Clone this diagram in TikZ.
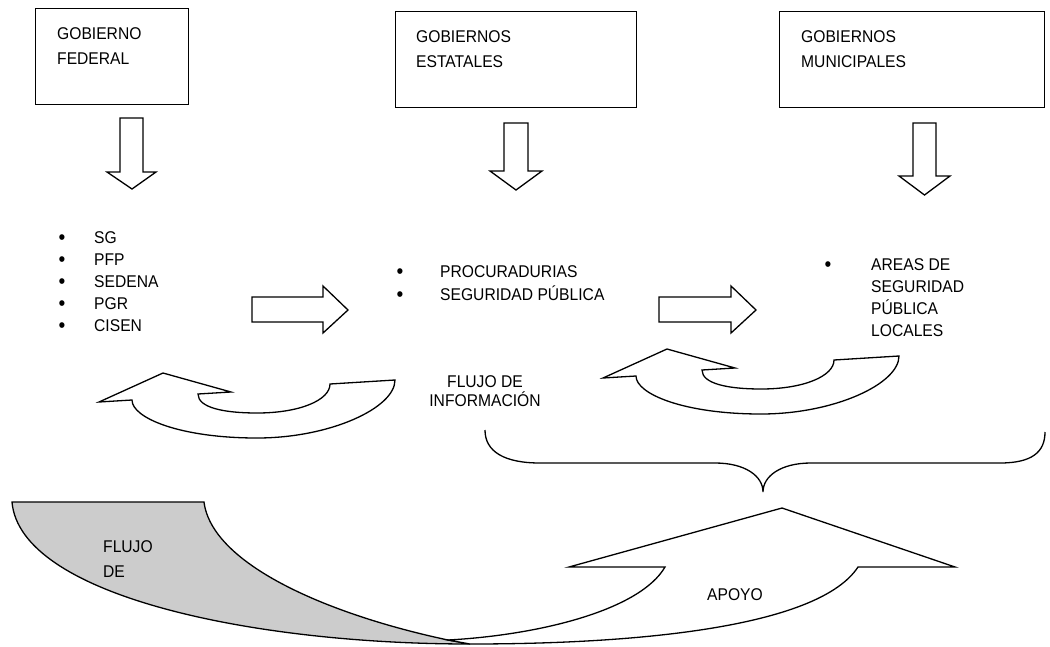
\documentclass[tikz,border=0pt]{standalone}
\usepackage{fontspec}
\setmainfont[FakeStretch=0.92]{Liberation Sans}
\begin{document}
\begin{tikzpicture}[x=1pt,y=-1pt,
  boxst/.style={draw=black, line width=1.3pt, anchor=north west, inner sep=0pt},
  blk/.style={draw=black, line width=1.3pt, fill=white, line join=miter},
  lbl/.style={font=\fontsize{17}{20}\selectfont, inner sep=0pt, anchor=base west},
  bul/.style={font=\fontsize{21}{22}\selectfont, inner sep=0pt, anchor=base},
  brace/.style={draw=black, line width=1.3pt}
]
\useasboundingbox (0,0) rectangle (1050,646);
\definecolor{shade}{RGB}{204,204,204}

% top boxes
\node[boxst, minimum width=153pt, minimum height=96pt] (fed) at (35,8) {};
\node[boxst, minimum width=241pt, minimum height=96pt] (est) at (395,11) {};
\node[boxst, minimum width=265pt, minimum height=96pt] (mun) at (779,11) {};
\node[lbl] (fedA) at (57,39) {GOBIERNO};
\node[lbl] (fedB) at (57,64) {FEDERAL};
\node[lbl] (estA) at (416,42) {GOBIERNOS};
\node[lbl] (estB) at (416,67) {ESTATALES};
\node[lbl] (munA) at (801,42) {GOBIERNOS};
\node[lbl] (munB) at (801,67) {MUNICIPALES};

% down block arrows
\draw[blk] (120,118) -- (143,118) -- (143,172) -- (156,172) -- (132,189) -- (107,172) -- (120,172) -- cycle;
\draw[blk] (504,123) -- (528,123) -- (528,171) -- (542,171) -- (516,190) -- (490,171) -- (504,171) -- cycle;
\draw[blk] (913,123) -- (936,123) -- (936,176) -- (950,176) -- (924.5,195) -- (899,176) -- (913,176) -- cycle;

% lists
\node[bul] (b1) at (62,244) {\textbullet};
\node[bul] (b2) at (62,266) {\textbullet};
\node[bul] (b3) at (62,288) {\textbullet};
\node[bul] (b4) at (62,310) {\textbullet};
\node[bul] (b5) at (62,332) {\textbullet};
\node[lbl] (l1) at (94,243) {SG};
\node[lbl] (l2) at (94,265) {PFP};
\node[lbl] (l3) at (94,287) {SEDENA};
\node[lbl] (l4) at (94,309) {PGR};
\node[lbl] (l5) at (94,331) {CISEN};

\node[bul] (c1) at (400,278) {\textbullet};
\node[bul] (c2) at (400,301) {\textbullet};
\node[lbl] (m1) at (440,277) {PROCURADURIAS};
\node[lbl] (m2) at (440,300) {SEGURIDAD PÚBLICA};

\node[bul] (d1) at (828,271) {\textbullet};
\node[lbl] (r1) at (871,270) {AREAS DE};
\node[lbl] (r2) at (871,292) {SEGURIDAD};
\node[lbl] (r3) at (871,314) {PÚBLICA};
\node[lbl] (r4) at (871,336) {LOCALES};

% right block arrows
\draw[blk] (252,297) -- (323,297) -- (323,286) -- (348,310) -- (323,333) -- (323,322) -- (252,322) -- cycle;
\draw[blk] (659,297) -- (731,297) -- (731,286) -- (756,310) -- (731,333) -- (731,322) -- (659,322) -- cycle;

% curved arrows
\draw[blk] (99,402) -- (163,373) -- (231,392) -- (198,394)
  .. controls (198,408) and (225,413) .. (257,413)
  .. controls (300,413) and (330,400) .. (330,384)
  -- (395,380)
  .. controls (395,408) and (330,438) .. (257,438)
  .. controls (180,438) and (132,418) .. (132,400) -- cycle;
\begin{scope}[shift={(504,-24)}]
\draw[blk] (99,402) -- (163,373) -- (231,392) -- (198,394)
  .. controls (198,408) and (225,413) .. (257,413)
  .. controls (300,413) and (330,400) .. (330,384)
  -- (395,380)
  .. controls (395,408) and (330,438) .. (257,438)
  .. controls (180,438) and (132,418) .. (132,400) -- cycle;
\end{scope}

\node[lbl, anchor=base] (fi1) at (485,387) {FLUJO DE};
\node[lbl, anchor=base] (fi2) at (485,406) {INFORMACIÓN};

% brace
\draw[brace] (485,430) .. controls (485,452) and (505,463) .. (540,463)
  -- (715,463) .. controls (745,463) and (763,476) .. (763,492)
  .. controls (763,476) and (781,463) .. (811,463)
  -- (1000,463) .. controls (1032,463) and (1045,452) .. (1045,432);

% bottom twisted arrow
\draw[blk, fill=shade] (12,502) -- (204,502)
  .. controls (212,565) and (330,615) .. (448,640)
  -- (470,644)
  .. controls (250,644) and (20,595) .. (12,502) -- cycle;
\draw[blk] (448,640) .. controls (540,635) and (640,610) .. (665,567)
  -- (569,567) -- (782,508) -- (955,567) -- (858,567)
  .. controls (820,625) and (650,644) .. (470,644) -- cycle;
\node[lbl] (fl1) at (103,552) {FLUJO};
\node[lbl] (fl2) at (103,577) {DE};
\node[lbl, anchor=center] (apoyo) at (735,595) {APOYO};
\end{tikzpicture}
\end{document}
